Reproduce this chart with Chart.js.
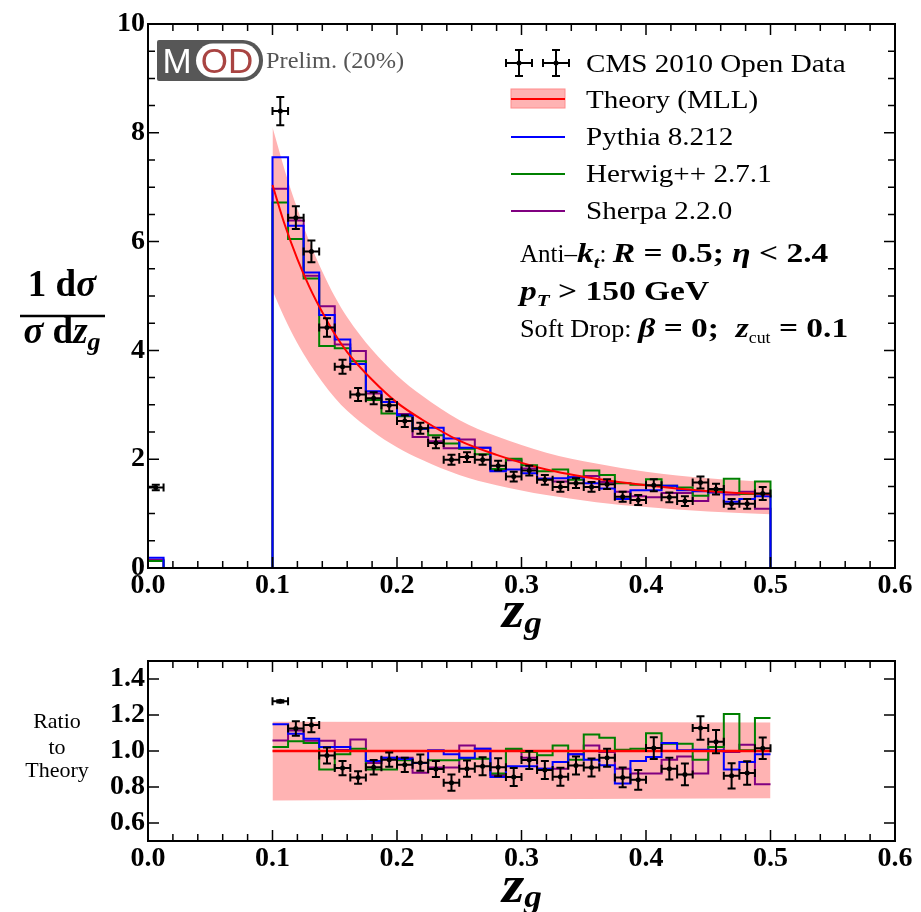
<!DOCTYPE html>
<html>
<head>
<meta charset="utf-8">
<script src="https://cdn.jsdelivr.net/npm/chart.js@4.4.0/dist/chart.umd.min.js"></script>
<style>
  html, body { margin: 0; padding: 0; background: #fff; }
  #wrap { position: relative; width: 921px; height: 912px; overflow: hidden; }
  canvas { position: absolute; left: 0; }
  #mainChart { top: 0; }
  #ratioChart { top: 640px; }
</style>
</head>
<body>
<div id="wrap">
  <canvas id="mainChart" width="921" height="660"></canvas>
  <canvas id="ratioChart" width="921" height="272"></canvas>
</div>
<script>
// z_g histogram: 0.0125 wide bins, soft drop cut at 0.1, upper edge 0.5
const zCut = 0.1;
const zMax = 0.5;
const binWidth = 0.0125;

const xMajor = [0, 0.1, 0.2, 0.3, 0.4, 0.5, 0.6];
const yMajorMain = [0, 2, 4, 6, 8, 10];
const yMajorRatio = [0.6, 0.8, 1.0, 1.2, 1.4];

// CMS 2010 open data, bins above the cut
const cmsData = [8.40, 6.44, 5.82, 4.42, 3.70, 3.19, 3.12, 2.99, 2.70, 2.57, 2.30, 1.99, 2.04, 1.99, 1.88, 1.68,
  1.79, 1.62, 1.49, 1.56, 1.49, 1.54, 1.31, 1.25, 1.52, 1.30, 1.23, 1.57, 1.45, 1.18, 1.18, 1.37];
const cmsErr = [0.26, 0.21, 0.20, 0.17, 0.13, 0.12, 0.11, 0.11, 0.11, 0.10, 0.10, 0.09, 0.09, 0.09, 0.09, 0.09,
  0.09, 0.09, 0.09, 0.09, 0.09, 0.09, 0.09, 0.09, 0.11, 0.09, 0.09, 0.11, 0.10, 0.09, 0.09, 0.12];
// first bin (0 - 0.0125), groomed away jets
const cmsFirstBin = 1.48;
const cmsFirstBinErr = 0.05;

const pythia = [7.55, 6.29, 5.43, 4.65, 4.20, 3.75, 3.25, 3.05, 2.81, 2.56, 2.58, 2.38, 2.21, 2.21, 1.78, 1.81,
  1.74, 1.64, 1.65, 1.67, 1.56, 1.46, 1.27, 1.43, 1.43, 1.51, 1.43, 1.41, 1.39, 1.22, 1.27, 1.32];
const herwig = [6.72, 6.05, 5.32, 4.08, 4.04, 3.80, 3.09, 2.84, 2.79, 2.56, 2.44, 2.29, 2.19, 2.09, 1.82, 2.01,
  1.89, 1.78, 1.81, 1.62, 1.79, 1.71, 1.56, 1.53, 1.63, 1.51, 1.48, 1.33, 1.41, 1.64, 1.36, 1.59];
const sherpa = [6.97, 6.39, 5.37, 4.81, 4.11, 3.99, 3.21, 3.05, 2.83, 2.41, 2.33, 2.20, 2.36, 2.21, 1.80, 1.98,
  1.83, 1.64, 1.59, 1.67, 1.69, 1.58, 1.40, 1.32, 1.30, 1.38, 1.38, 1.23, 1.41, 1.35, 1.40, 1.09];
const pythiaFirstBin = 0.19;
const herwigFirstBin = 0.13;
const sherpaFirstBin = 0.15;

// MLL theory curve and its uncertainty band
const theoryZ = [0.1, 0.11, 0.12, 0.13, 0.14, 0.15, 0.16, 0.18, 0.2, 0.22, 0.25, 0.28, 0.32, 0.36, 0.4, 0.45, 0.5];
const theoryMLL = [7.04, 6.30, 5.68, 5.15, 4.70, 4.30, 3.97, 3.46, 3.04, 2.73, 2.34, 2.08, 1.81, 1.64, 1.52, 1.41, 1.35];
const theoryUp = [8.10, 7.30, 6.60, 5.98, 5.45, 4.99, 4.61, 4.01, 3.54, 3.17, 2.72, 2.42, 2.12, 1.92, 1.77, 1.65, 1.58];
const theoryDown = [5.10, 4.58, 4.13, 3.75, 3.42, 3.13, 2.89, 2.52, 2.22, 1.99, 1.71, 1.52, 1.34, 1.21, 1.12, 1.04, 0.99];

// ratios to theory
const cmsRatio = [1.276, 1.125, 1.144, 0.975, 0.905, 0.853, 0.910, 0.952, 0.923, 0.935, 0.900, 0.824, 0.902, 0.915,
  0.910, 0.855, 0.950, 0.895, 0.857, 0.920, 0.908, 0.963, 0.853, 0.840, 1.016, 0.902, 0.870, 1.128, 1.052, 0.862,
  0.878, 1.015];
const cmsRatioErr = [0.006, 0.04, 0.04, 0.045, 0.04, 0.035, 0.04, 0.04, 0.04, 0.045, 0.045, 0.045, 0.045, 0.05,
  0.05, 0.05, 0.05, 0.05, 0.05, 0.05, 0.05, 0.05, 0.055, 0.055, 0.06, 0.06, 0.06, 0.065, 0.065, 0.07, 0.065, 0.06];
const pythiaRatio = [1.148, 1.096, 1.068, 1.022, 1.022, 1.000, 0.945, 0.963, 0.956, 0.934, 1.004, 0.982, 0.963,
  1.013, 0.856, 0.915, 0.915, 0.902, 0.939, 0.982, 0.952, 0.921, 0.820, 0.945, 0.967, 1.044, 1.004, 1.007, 1.004,
  0.897, 0.939, 0.982];
const herwigRatio = [1.022, 1.054, 1.045, 0.897, 0.982, 1.013, 0.897, 0.897, 0.948, 0.934, 0.948, 0.948, 0.957,
  0.957, 0.875, 1.013, 0.995, 0.976, 1.031, 0.952, 1.092, 1.073, 1.007, 1.013, 1.099, 1.040, 1.040, 0.952, 1.022,
  1.206, 1.004, 1.184];
const sherpaRatio = [1.059, 1.114, 1.057, 1.057, 1.005, 1.064, 0.934, 0.963, 0.963, 0.879, 0.908, 0.908, 1.031,
  1.013, 0.866, 1.005, 0.963, 0.902, 0.902, 0.982, 1.031, 0.995, 0.902, 0.875, 0.875, 0.952, 0.970, 0.875, 1.022,
  0.995, 1.035, 0.815];
const ratioBandZ = [0.1, 0.5];
const ratioBandUp = [1.162, 1.158];
const ratioBandDown = [0.725, 0.737];
const ratioLine = [1.0, 1.0];

const SERIF = '"Liberation Serif", "Times New Roman", serif';
const SANS = '"Liberation Sans", Arial, sans-serif';
const font = (style, size, fam = SERIF) => `${style} ${size}px ${fam}`;

const BLUE = "#0000ff";
const GREEN = "#008000";
const PURPLE = "#800080";
const RED = "#ff0000";
const BAND = "#ffb3b3";

Chart.defaults.color = "#000";
Chart.defaults.font.family = SERIF;

const binCenter = (i) => zCut + (i + 0.5) * binWidth;

function stepSeries(values, firstBin) {
  const pts = [];
  if (firstBin !== undefined) {
    pts.push({ x: 0, y: firstBin }, { x: binWidth, y: 0 });
  }
  values.forEach((v, i) => pts.push({ x: zCut + i * binWidth, y: v }));
  pts.push({ x: zMax, y: values[values.length - 1] });
  if (firstBin !== undefined) pts.push({ x: zMax, y: 0 });
  return pts;
}

const curve = (xs, ys) => xs.map((x, i) => ({ x, y: ys[i] }));

function stepDataset(data, color, order) {
  return {
    type: "line", data, borderColor: color, borderWidth: 2, stepped: "before",
    pointRadius: 0, fill: false, order,
  };
}

function bandDatasets(xs, up, down) {
  return [
    { type: "line", data: curve(xs, up), borderWidth: 0, pointRadius: 0, fill: "+1",
      backgroundColor: BAND, cubicInterpolationMode: "monotone", order: 10 },
    { type: "line", data: curve(xs, down), borderWidth: 0, pointRadius: 0, fill: false,
      cubicInterpolationMode: "monotone", order: 11 },
  ];
}

// error bars with caps on both axes
function errorBars(points) {
  return {
    id: "errorBars",
    afterDatasetsDraw(chart) {
      const { ctx, scales: { x, y } } = chart;
      const cap = 4;
      ctx.save();
      ctx.strokeStyle = "#000";
      ctx.lineWidth = 2;
      ctx.beginPath();
      points.forEach((p) => {
        const px = x.getPixelForValue(p.x);
        const py = y.getPixelForValue(p.y);
        const x0 = x.getPixelForValue(p.x - p.xe);
        const x1 = x.getPixelForValue(p.x + p.xe);
        const y0 = y.getPixelForValue(p.y - p.ye);
        const y1 = y.getPixelForValue(p.y + p.ye);
        ctx.moveTo(x0, py); ctx.lineTo(x1, py);
        ctx.moveTo(px, y0); ctx.lineTo(px, y1);
        ctx.moveTo(x0, py - cap); ctx.lineTo(x0, py + cap);
        ctx.moveTo(x1, py - cap); ctx.lineTo(x1, py + cap);
        ctx.moveTo(px - cap, y0); ctx.lineTo(px + cap, y0);
        ctx.moveTo(px - cap, y1); ctx.lineTo(px + cap, y1);
      });
      ctx.stroke();
      ctx.restore();
    },
  };
}

// box frame with inward ticks on all four sides
function axisFrame(yMajor, yMinorStep) {
  return {
    id: "axisFrame",
    afterDraw(chart) {
      const { ctx, chartArea: a, scales: { x, y } } = chart;
      ctx.save();
      ctx.strokeStyle = "#000";
      ctx.lineWidth = 1.5;
      ctx.beginPath();
      const tickX = (v, len) => {
        const p = x.getPixelForValue(v);
        ctx.moveTo(p, a.bottom); ctx.lineTo(p, a.bottom - len);
        ctx.moveTo(p, a.top); ctx.lineTo(p, a.top + len);
      };
      const tickY = (v, len) => {
        const p = y.getPixelForValue(v);
        ctx.moveTo(a.left, p); ctx.lineTo(a.left + len, p);
        ctx.moveTo(a.right, p); ctx.lineTo(a.right - len, p);
      };
      for (let v = 0.02; v < x.max - 0.001; v += 0.02) tickX(v, 7);
      xMajor.forEach((v) => tickX(v, 11));
      if (yMinorStep) {
        for (let v = y.min + yMinorStep; v < y.max - 0.001; v += yMinorStep) tickY(v, 7);
      }
      yMajor.forEach((v) => tickY(v, 11));
      ctx.stroke();
      ctx.lineWidth = 2;
      ctx.strokeRect(a.left, a.top, a.right - a.left, a.bottom - a.top);
      ctx.restore();
    },
  };
}

// mixed-font text run; each part is [text, font, dy, sx]
function drawRich(ctx, x, y, parts, opts = {}) {
  const sxDefault = opts.sx || 1;
  const widthOf = ([t, f, , sx]) => { ctx.font = f; return ctx.measureText(t).width * (sx || sxDefault); };
  const total = parts.reduce((s, p) => s + widthOf(p), 0);
  let cx = opts.align === "center" ? x - total / 2 : x;
  parts.forEach((p) => {
    const [t, f, dy, sx] = p;
    const w = widthOf(p);
    ctx.save();
    ctx.font = f;
    ctx.translate(cx, y + (dy || 0));
    ctx.scale(sx || sxDefault, 1);
    ctx.fillText(t, 0, 0);
    ctx.restore();
    cx += w;
  });
}

function drawDataSymbol(ctx, cx, cy) {
  const h = 13, cap = 4;
  ctx.beginPath();
  ctx.moveTo(cx - h, cy); ctx.lineTo(cx + h, cy);
  ctx.moveTo(cx, cy - h); ctx.lineTo(cx, cy + h);
  ctx.moveTo(cx - h, cy - cap); ctx.lineTo(cx - h, cy + cap);
  ctx.moveTo(cx + h, cy - cap); ctx.lineTo(cx + h, cy + cap);
  ctx.moveTo(cx - cap, cy - h); ctx.lineTo(cx + cap, cy - h);
  ctx.moveTo(cx - cap, cy + h); ctx.lineTo(cx + cap, cy + h);
  ctx.stroke();
  ctx.beginPath();
  ctx.arc(cx, cy, 2.5, 0, Math.PI * 2);
  ctx.fill();
}

function drawLogo(ctx) {
  ctx.fillStyle = "#575757";
  ctx.beginPath();
  ctx.roundRect(157, 40, 106, 41, [2, 20, 20, 2]);
  ctx.fill();
  ctx.fillStyle = "#fff";
  ctx.beginPath();
  ctx.roundRect(196, 43.5, 63, 34, 17);
  ctx.fill();
  ctx.textAlign = "center";
  ctx.textBaseline = "alphabetic";
  ctx.font = font("normal", 35, SANS);
  ctx.fillText("M", 177, 73);
  ctx.fillStyle = "#a94442";
  ctx.fillText("OD", 227, 73);
  ctx.textAlign = "left";
  ctx.fillStyle = "#555";
  drawRich(ctx, 266, 68, [["Prelim. (20%)", font("normal", 23)]], { sx: 1.06 });
}

const mainOverlay = {
  id: "mainOverlay",
  afterDraw(chart) {
    const { ctx } = chart;
    ctx.save();
    ctx.fillStyle = "#000";
    ctx.strokeStyle = "#000";
    ctx.textBaseline = "alphabetic";
    ctx.textAlign = "left";

    // y axis title: 1 dσ / σ dz_g
    drawRich(ctx, 62, 296, [["1 d", font("bold", 37)], ["σ", font("italic bold", 37)]], { align: "center" });
    ctx.lineWidth = 2.5;
    ctx.beginPath();
    ctx.moveTo(20, 316); ctx.lineTo(105, 316);
    ctx.stroke();
    drawRich(ctx, 62, 343, [
      ["σ", font("italic bold", 37)], [" d", font("bold", 37)], ["z", font("italic bold", 37)],
      ["g", font("italic bold", 26), 7],
    ], { align: "center" });

    // x axis title
    drawRich(ctx, 522, 627, [["z", font("italic bold", 52)], ["g", font("italic bold", 32), 6]],
      { align: "center", sx: 1.1 });

    drawLogo(ctx);

    // legend
    ctx.fillStyle = "#000";
    ctx.strokeStyle = "#000";
    ctx.lineWidth = 2;
    drawDataSymbol(ctx, 519, 63);
    drawDataSymbol(ctx, 556, 63);
    ctx.fillStyle = BAND;
    ctx.fillRect(511, 89, 54, 19);
    ctx.strokeStyle = "#ff8c8c";
    ctx.lineWidth = 1;
    ctx.strokeRect(511, 89, 54, 19);
    const legendLine = (y, color) => {
      ctx.strokeStyle = color;
      ctx.lineWidth = 2;
      ctx.beginPath();
      ctx.moveTo(511, y); ctx.lineTo(565, y);
      ctx.stroke();
    };
    legendLine(99, RED);
    legendLine(137, BLUE);
    legendLine(174, GREEN);
    legendLine(211, PURPLE);
    ctx.fillStyle = "#000";
    const lf = font("normal", 26);
    const legendText = (t, y) => drawRich(ctx, 586, y, [[t, lf]], { sx: 1.12 });
    legendText("CMS 2010 Open Data", 72);
    legendText("Theory (MLL)", 108);
    legendText("Pythia 8.212", 145);
    legendText("Herwig++ 2.7.1", 182);
    legendText("Sherpa 2.2.0", 219);

    // jet selection
    const wide = 1.24;
    const reg = font("normal", 25), b = font("bold", 27), bi = font("italic bold", 27);
    const sub = font("italic bold", 17), subr = font("normal", 17);
    drawRich(ctx, 520, 262, [
      ["Anti–", reg, 0, 1], ["k", bi], ["t", sub, 6], [": ", reg, 0, 1], ["R", bi], [" = 0.5; ", b],
      ["η", bi], [" < 2.4", b],
    ], { sx: wide });
    drawRich(ctx, 520, 300, [["p", bi], ["T", sub, 6], [" > 150 GeV", b]], { sx: wide });
    drawRich(ctx, 520, 337, [
      ["Soft Drop: ", reg, 0, 1.05], ["β", bi], [" = 0;  ", b], ["z", bi], ["cut", subr, 6, 1.05], [" = 0.1", b],
    ], { sx: wide });
    ctx.restore();
  },
};

const ratioOverlay = {
  id: "ratioOverlay",
  afterDraw(chart) {
    const { ctx } = chart;
    ctx.save();
    ctx.fillStyle = "#000";
    ctx.textAlign = "center";
    ctx.textBaseline = "alphabetic";
    ctx.font = font("normal", 22);
    ctx.fillText("Ratio", 57, 88);
    ctx.fillText("to", 57, 114);
    ctx.fillText("Theory", 57, 137);
    ctx.textAlign = "left";
    drawRich(ctx, 522, 262, [["z", font("italic bold", 52)], ["g", font("italic bold", 32), 5]],
      { align: "center", sx: 1.1 });
    ctx.restore();
  },
};

const tickFont = { family: SERIF, size: 28, weight: "bold" };

function xScale(height) {
  return {
    type: "linear", min: 0, max: 0.6,
    grid: { display: false, drawTicks: false },
    border: { display: false },
    ticks: { font: tickFont, padding: 1, maxRotation: 0, autoSkip: false, callback: (v) => v.toFixed(1) },
    afterBuildTicks: (s) => { s.ticks = xMajor.map((v) => ({ value: v })); },
    afterFit: (s) => { s.height = height; },
  };
}

function yScale(min, max, ticks, digits) {
  return {
    type: "linear", min, max,
    grid: { display: false, drawTicks: false },
    border: { display: false },
    ticks: { font: tickFont, padding: 3, callback: (v) => v.toFixed(digits) },
    afterBuildTicks: (s) => { s.ticks = ticks.map((v) => ({ value: v })); },
    afterFit: (s) => { s.width = 148; },
  };
}

const baseOptions = {
  responsive: false,
  animation: false,
  devicePixelRatio: 1,
  events: [],
  plugins: { legend: { display: false }, tooltip: { enabled: false } },
};

// main distribution
const mainPoints = [{ x: binWidth / 2, y: cmsFirstBin, xe: binWidth / 2, ye: cmsFirstBinErr }]
  .concat(cmsData.map((v, i) => ({ x: binCenter(i), y: v, xe: binWidth / 2, ye: cmsErr[i] })));

new Chart(document.getElementById("mainChart"), {
  type: "line",
  data: {
    datasets: [
      ...bandDatasets(theoryZ, theoryUp, theoryDown),
      stepDataset(stepSeries(sherpa, sherpaFirstBin), PURPLE, 6),
      stepDataset(stepSeries(herwig, herwigFirstBin), GREEN, 5),
      stepDataset(stepSeries(pythia, pythiaFirstBin), BLUE, 4),
      { type: "line", data: curve(theoryZ, theoryMLL), borderColor: RED, borderWidth: 2, pointRadius: 0,
        cubicInterpolationMode: "monotone", fill: false, order: 3 },
      { type: "scatter", data: mainPoints.map((p) => ({ x: p.x, y: p.y })), pointRadius: 2.5,
        pointBackgroundColor: "#000", pointBorderWidth: 0, order: 1 },
    ],
  },
  options: {
    ...baseOptions,
    layout: { padding: { top: 24, right: 26, left: 0, bottom: 0 } },
    scales: { x: xScale(92), y: yScale(0, 10, yMajorMain, 0) },
  },
  plugins: [errorBars(mainPoints), axisFrame(yMajorMain, 0.5), mainOverlay],
});

// ratio to theory
const ratioPoints = cmsRatio.map((v, i) => ({ x: binCenter(i), y: v, xe: binWidth / 2, ye: cmsRatioErr[i] }));

new Chart(document.getElementById("ratioChart"), {
  type: "line",
  data: {
    datasets: [
      ...bandDatasets(ratioBandZ, ratioBandUp, ratioBandDown),
      stepDataset(stepSeries(sherpaRatio), PURPLE, 6),
      stepDataset(stepSeries(herwigRatio), GREEN, 5),
      stepDataset(stepSeries(pythiaRatio), BLUE, 4),
      { type: "line", data: curve(ratioBandZ, ratioLine), borderColor: RED, borderWidth: 2.5, pointRadius: 0,
        fill: false, order: 3 },
      { type: "scatter", data: ratioPoints.map((p) => ({ x: p.x, y: p.y })), pointRadius: 2.5,
        pointBackgroundColor: "#000", pointBorderWidth: 0, order: 1 },
    ],
  },
  options: {
    ...baseOptions,
    layout: { padding: { top: 21, right: 26, left: 0, bottom: 0 } },
    scales: { x: xScale(71), y: yScale(0.5, 1.5, yMajorRatio, 1) },
  },
  plugins: [errorBars(ratioPoints), axisFrame(yMajorRatio, 0), ratioOverlay],
});
</script>
</body>
</html>
